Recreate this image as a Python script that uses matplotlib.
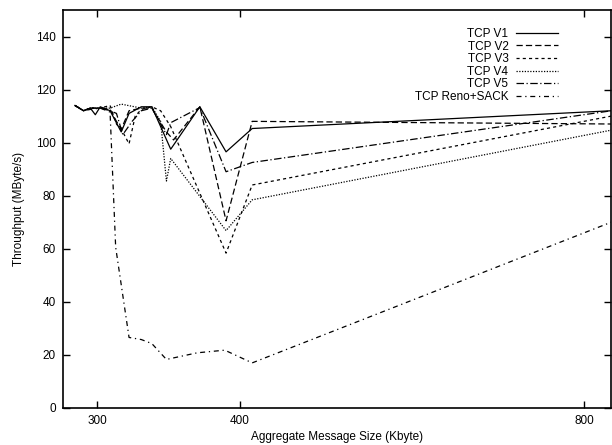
import matplotlib
matplotlib.use("Agg")
import matplotlib.pyplot as plt
from matplotlib.ticker import FixedLocator, NullLocator, FixedFormatter

plt.rcParams['font.family'] = ['Liberation Sans', 'DejaVu Sans']

x_ticks = [300, 400, 800]
x_tick_labels = ["300", "400", "800"]
y_ticks = [0, 20, 40, 60, 80, 100, 120, 140]

v1_x = [287, 292, 296, 299, 302, 308, 315, 320, 328, 335, 348, 369, 389, 410, 845]
v1_y = [114, 112, 113, 110.5, 113.5, 112, 104, 111, 113.5, 113.5, 97.5, 113.5, 96.5, 105.3, 112]

v2_x = [287, 292, 296, 302, 308, 312, 315, 320, 328, 335, 345, 350, 369, 389, 410, 845]
v2_y = [114, 112, 113, 113, 112.5, 108, 105, 112, 113, 113, 104, 101, 113.5, 70.5, 108, 107]

v3_x = [287, 292, 296, 302, 308, 312, 316, 320, 324, 328, 335, 341, 348, 389, 410, 845]
v3_y = [114, 112, 113, 113, 114, 107, 104, 99.5, 110, 112.5, 113.5, 112, 106, 58.3, 84, 110]

v4_x = [287, 292, 296, 302, 308, 315, 328, 335, 341, 345, 348, 389, 410, 845]
v4_y = [114, 112, 113, 113, 113, 114.5, 113, 113.5, 108, 85.5, 94, 66.8, 78.4, 104.7]

v5_x = [287, 292, 296, 302, 308, 312, 316, 322, 328, 335, 345, 348, 369, 389, 410, 845]
v5_y = [114, 112, 113, 113, 112, 111, 103, 108, 112, 113, 103, 107.5, 113.2, 89, 92.5, 112]

reno_x = [287, 292, 296, 302, 308, 311.5, 320, 328, 335, 345, 367, 388, 410, 845]
reno_y = [114, 112, 112.5, 113, 111.5, 60.5, 26.5, 25.7, 24.2, 18.2, 20.7, 21.7, 16.9, 70]

series = [
    ("TCP V1", v1_x, v1_y, '-'),
    ("TCP V2", v2_x, v2_y, (0, (5, 2.5))),
    ("TCP V3", v3_x, v3_y, (0, (2.5, 2.5))),
    ("TCP V4", v4_x, v4_y, (0, (1, 1.2))),
    ("TCP V5", v5_x, v5_y, (0, (6, 2, 1, 2))),
    ("TCP Reno+SACK", reno_x, reno_y, (0, (4, 3, 1, 3))),
]

fig = plt.figure(figsize=(6.12, 4.45), dpi=100)
ax = fig.add_axes([62.7/612, 1 - 407.7/445, (611.5 - 62.7)/612, (407.7 - 10)/445])

for name, xs, ys, ls in series:
    ax.plot(xs, ys, color='black', linestyle=ls, linewidth=0.9, label=name)

ax.set_xscale('log')
ax.set_xlim(280, 845)
ax.set_ylim(0, 150)
ax.xaxis.set_major_locator(FixedLocator(x_ticks))
ax.xaxis.set_major_formatter(FixedFormatter(x_tick_labels))
ax.xaxis.set_minor_locator(NullLocator())
ax.yaxis.set_major_locator(FixedLocator(y_ticks))
ax.yaxis.set_minor_locator(NullLocator())
ax.tick_params(axis='both', which='major', direction='in', length=5, width=1,
               top=True, right=True, labelsize=8.5, pad=5)
for s in ax.spines.values():
    s.set_linewidth(1.2)

ax.set_xlabel("Aggregate Message Size (Kbyte)", fontsize=8.5, labelpad=3)
ax.set_ylabel("Throughput (MByte/s)", fontsize=8.5, labelpad=8)

leg = ax.legend(loc='upper right', bbox_to_anchor=(558/612, 1 - 28/445),
                bbox_transform=fig.transFigure, frameon=False, markerfirst=False,
                fontsize=8.5, handlelength=3.6, handletextpad=0.6,
                labelspacing=0.05, borderpad=0, borderaxespad=0)
for t in leg.get_texts():
    t.set_ha('right')

fig.savefig("out.png", dpi=100)
